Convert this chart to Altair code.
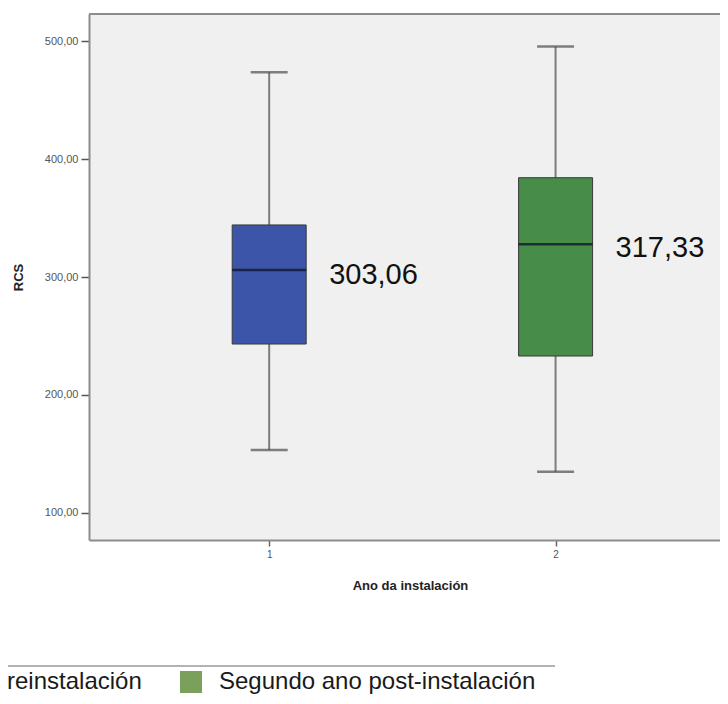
import altair as alt
import pandas as pd

# ---- data ----
groups = [1, 2]
group_names = ["1", "2"]
whisker_low = [153.1, 134.6]
q1 = [243.1, 232.9]
median = [305.9, 327.8]
q3 = [344.2, 384.3]
whisker_high = [473.8, 495.6]
label_text = ["303,06", "317,33"]
label_anchor = [301.3, 324.6]
legend_labels = ["Preinstalación", "Segundo ano post-instalación"]
y_ticks = [100, 200, 300, 400, 500]
x_ticks = [1, 2]

box_colors = ["#3c55a8", "#478c48"]
legend_colors = ["#4a6cb4", "#7ba05b"]

df = pd.DataFrame({
    "grupo": groups,
    "grupo_n": group_names,
    "low": whisker_low,
    "q1": q1,
    "median": median,
    "q3": q3,
    "high": whisker_high,
    "label": label_text,
    "label_y": label_anchor,
})
legend_df = pd.DataFrame({"serie": legend_labels, "grupo": groups, "v": [300, 300]})
one = pd.DataFrame({"a": [0]})

W, H = 631, 526
x_scale = alt.Scale(domain=[0.3883, 2.5567], nice=False, zero=False)
y_scale = alt.Scale(domain=[76.7, 523.3], nice=False, zero=False)

x_enc = alt.X(
    "grupo:Q", scale=x_scale,
    axis=alt.Axis(values=x_ticks, format="d", title="Ano da instalación", grid=False,
                  labelFontSize=10, labelColor="#555555", tickSize=6, tickColor="#666666",
                  tickWidth=1.5, labelPadding=3, domainColor="#8c8c8c", domainWidth=2,
                  titleFontSize=13, titleFontWeight="bold", titleColor="#222222",
                  titlePadding=20, titleX=321, titleAnchor="middle"),
)
y_axis = alt.Axis(values=y_ticks, labelExpr="replace(format(datum.value, '.2f'), '.', ',')",
                  title="RCS", grid=False, labelFontSize=11, labelColor="#555555",
                  tickSize=8, tickColor="#555555", tickWidth=1.5, labelPadding=3,
                  domainColor="#8c8c8c", domainWidth=2, titleFontSize=13,
                  titleFontWeight="bold", titleColor="#222222", titlePadding=19)

base = alt.Chart(df)

whiskers = base.mark_rule(color="#7d7d7d", strokeWidth=2).encode(
    x=x_enc, y=alt.Y("low:Q", scale=y_scale, axis=y_axis), y2="high:Q")
boxes = base.mark_bar(size=74, stroke="#3a3a3a", strokeWidth=1).encode(
    x="grupo:Q", y="q1:Q", y2="q3:Q",
    color=alt.Color("grupo_n:N", scale=alt.Scale(domain=group_names, range=box_colors), legend=None))
medians = base.mark_tick(orient="horizontal", size=74, thickness=2.5, color="#10182e", opacity=0.8).encode(
    x="grupo:Q", y="median:Q")
caps_low = base.mark_tick(orient="horizontal", size=37, thickness=2.5, color="#4d4d4d").encode(
    x="grupo:Q", y="low:Q")
caps_high = base.mark_tick(orient="horizontal", size=37, thickness=2.5, color="#4d4d4d").encode(
    x="grupo:Q", y="high:Q")
labels = base.mark_text(align="left", baseline="middle", dx=60, fontSize=29,
                        font="Liberation Sans", color="#111111").encode(
    x="grupo:Q", y="label_y:Q", text="label:N")

legend_layer = alt.Chart(legend_df).mark_point(shape="square", filled=True, opacity=0).encode(
    x="grupo:Q", y="v:Q",
    color=alt.Color("serie:N", scale=alt.Scale(domain=legend_labels, range=legend_colors),
                    legend=alt.Legend(orient="none", legendX=-138, legendY=656, direction="horizontal",
                                      title=None, symbolType="square", symbolSize=484,
                                      symbolOpacity=1, symbolStrokeWidth=0, labelFontSize=24,
                                      labelFont="Liberation Sans", labelColor="#1a1a1a",
                                      labelOffset=16, columnPadding=37, padding=0, labelLimit=0)))

top_border = alt.Chart(one).mark_rule(color="#8c8c8c", strokeWidth=2).encode(
    x=alt.value(0), x2=alt.value(W), y=alt.value(0))
separator = alt.Chart(one).mark_rule(color="#9a9a9a", strokeWidth=1.5).encode(
    x=alt.value(-89), x2=alt.value(466), y=alt.value(652))

chart = alt.layer(
    whiskers, boxes, medians, caps_low, caps_high, labels, legend_layer, top_border, separator
).resolve_scale(color="independent").properties(
    width=W, height=H,
    autosize=alt.AutoSizeParams(type="none"),
    padding={"left": 81, "top": 6, "right": 0, "bottom": 156},
    background="white",
).configure_view(fill="#f0f0f0", stroke=None).configure_axis(labelFont="Liberation Sans", titleFont="Liberation Sans")

chart.save("out.html", embed_options={"renderer": "svg", "actions": False})
